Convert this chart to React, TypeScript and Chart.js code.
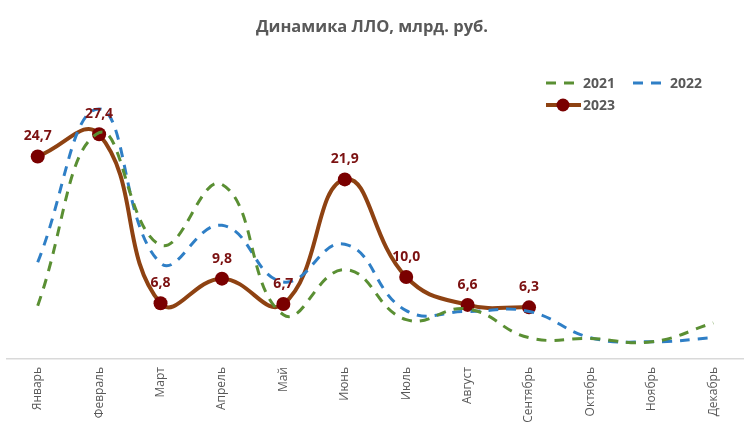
import React, { useEffect, useRef } from "react";
import { Chart, registerables } from "chart.js";

Chart.register(...registerables);

const months = ["Январь", "Февраль", "Март", "Апрель", "Май", "Июнь", "Июль", "Август", "Сентябрь", "Октябрь", "Ноябрь", "Декабрь"];
const values2021 = [6.5, 27.6, 13.9, 21.3, 5.4, 10.9, 4.8, 6.1, 2.6, 2.5, 2.1, 4.4];
const values2022 = [11.8, 30.5, 11.7, 16.3, 9.4, 14.0, 5.9, 5.8, 5.8, 2.6, 2.1, 2.6];
const values2023 = [24.7, 27.4, 6.8, 9.8, 6.7, 21.9, 10.0, 6.6, 6.3, null, null, null];
const titleText = "Динамика ЛЛО, млрд. руб.";

const GREEN = "#5A8F33";
const BLUE = "#2F7FC6";
const BROWN = "#8E4212";
const MAROON = "#7A0000";
const GRAY = "#595959";
const FONT = "'Open Sans', 'DejaVu Sans', sans-serif";

const overlayPlugin = {
  id: "overlay",
  afterDatasetsDraw(chart: any) {
    const ctx = chart.ctx;
    ctx.save();
    // data labels for 2023
    const meta = chart.getDatasetMeta(2);
    ctx.font = `bold 14px ${FONT}`;
    ctx.fillStyle = "#7B1111";
    ctx.textAlign = "center";
    ctx.textBaseline = "bottom";
    meta.data.forEach((pt: any, i: number) => {
      const v = values2023[i];
      if (v == null) return;
      ctx.fillText(v.toFixed(1).replace(".", ","), pt.x, pt.y - 13);
    });
    // title
    ctx.font = `bold 16.5px ${FONT}`;
    ctx.fillStyle = GRAY;
    ctx.textBaseline = "middle";
    ctx.fillText(titleText, 372, 27);
    // legend
    ctx.font = `bold 14px ${FONT}`;
    ctx.textAlign = "left";
    const drawDash = (x: number, y: number, color: string) => {
      ctx.strokeStyle = color;
      ctx.lineWidth = 3;
      ctx.setLineDash([10, 8]);
      ctx.beginPath();
      ctx.moveTo(x, y);
      ctx.lineTo(x + 33, y);
      ctx.stroke();
      ctx.setLineDash([]);
    };
    drawDash(546, 83, GREEN);
    ctx.fillStyle = GRAY;
    ctx.fillText("2021", 583, 84);
    drawDash(633, 83, BLUE);
    ctx.fillStyle = GRAY;
    ctx.fillText("2022", 670, 84);
    ctx.strokeStyle = BROWN;
    ctx.lineWidth = 4;
    ctx.beginPath();
    ctx.moveTo(546, 105);
    ctx.lineTo(581, 105);
    ctx.stroke();
    ctx.fillStyle = MAROON;
    ctx.beginPath();
    ctx.arc(563, 105, 6.5, 0, Math.PI * 2);
    ctx.fill();
    ctx.fillStyle = GRAY;
    ctx.fillText("2023", 583, 106);
    ctx.restore();
  },
};

export default function App() {
  const ref = useRef<HTMLCanvasElement>(null);
  useEffect(() => {
    document.body.style.margin = "0";
    const chart = new Chart(ref.current as HTMLCanvasElement, {
      type: "line",
      data: {
        labels: months,
        datasets: [
          {
            label: "2021",
            data: values2021,
            borderColor: GREEN,
            borderWidth: 3,
            borderDash: [10, 8],
            pointRadius: 0,
            tension: 0.45,
            fill: false,
          },
          {
            label: "2022",
            data: values2022,
            borderColor: BLUE,
            borderWidth: 3,
            borderDash: [10, 8],
            pointRadius: 0,
            tension: 0.45,
            fill: false,
          },
          {
            label: "2023",
            data: values2023,
            borderColor: BROWN,
            borderWidth: 4,
            pointRadius: 7,
            pointBackgroundColor: MAROON,
            pointBorderColor: MAROON,
            pointBorderWidth: 0,
            tension: 0.45,
            fill: false,
          },
        ],
      },
      options: {
        responsive: false,
        animation: false,
        layout: { padding: { top: 72, left: 5, right: 0, bottom: 0 } },
        plugins: { legend: { display: false }, tooltip: { enabled: false }, title: { display: false } },
        scales: {
          x: {
            offset: true,
            grid: { display: false, drawTicks: false },
            border: { display: true, color: "#D9D9D9", width: 1.5 },
            ticks: {
              color: GRAY,
              font: { family: FONT, size: 12 },
              minRotation: 90,
              maxRotation: 90,
              padding: 8,
              autoSkip: false,
            },
            afterFit: (s: any) => {
              s.height = 81;
            },
          },
          y: { display: false, min: 0, max: 35 },
        },
      },
      plugins: [overlayPlugin],
    });
    return () => chart.destroy();
  }, []);
  return (
    <div style={{ width: 744, height: 440, background: "#fff", overflow: "hidden" }}>
      <canvas ref={ref} width={751} height={440} style={{ display: "block" }} />
    </div>
  );
}
